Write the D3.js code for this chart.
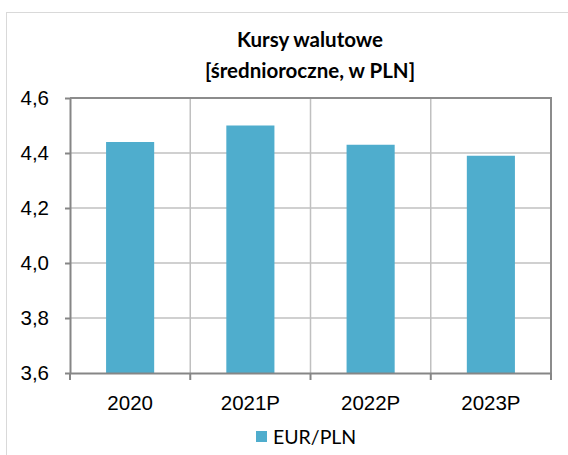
<!DOCTYPE html>
<html>
<head>
<meta charset="utf-8">
<script src="https://cdn.jsdelivr.net/npm/d3@7"></script>
<style>
  body { margin: 0; background: #fff; }
  svg { display: block; font-family: Lato, 'Open Sans', sans-serif; }
  .axis path, .axis line { stroke: #868686; }
  .axis text { fill: #000; }
</style>
</head>
<body>
<svg id="chart" width="568" height="455"></svg>
<script>
// data
var categories = ['2020', '2021P', '2022P', '2023P']
var eurPln = [4.44, 4.50, 4.43, 4.39]
var yTicks = [3.6, 3.8, 4.0, 4.2, 4.4, 4.6]
var titleLines = ['Kursy walutowe', '[średnioroczne, w PLN]']
var seriesName = 'EUR/PLN'

var barColor = '#4fadcd'
var svg = d3.select('#chart')
var width = +svg.attr('width'),
  height = +svg.attr('height')
var margin = {top: 98, right: 17, bottom: 82, left: 70}
var plotW = width - margin.left - margin.right,
  plotH = height - margin.top - margin.bottom

// chart frame
svg.append('rect')
  .attr('x', 6.5).attr('y', 12.5)
  .attr('width', width + 10).attr('height', height + 10)
  .attr('fill', 'none')
  .attr('stroke', '#d9d9d9')

// title
svg.append('g').selectAll('text')
  .data(titleLines)
  .enter().append('text')
  .attr('x', 310)
  .attr('y', function (d, i) { return 47 + i * 31 })
  .attr('text-anchor', 'middle')
  .style('font-weight', 'bold')
  .style('font-size', '20.5px')
  .text(function (d) { return d })

var x = d3.scaleBand().domain(categories).range([0, plotW]).padding(0)
var y = d3.scaleLinear().domain([3.6, 4.6]).range([plotH, 0])

var g = svg.append('g')
  .attr('transform', 'translate(' + margin.left + ',' + margin.top + ')')

// horizontal grid
g.append('g').selectAll('line')
  .data(yTicks.slice(1, -1))
  .enter().append('line')
  .attr('x1', 0).attr('x2', plotW)
  .attr('y1', function (d) { return y(d) })
  .attr('y2', function (d) { return y(d) })
  .attr('stroke', '#c0c0c0')
  .attr('stroke-width', 1.5)

// vertical grid between categories
g.append('g').selectAll('line')
  .data(categories.slice(1))
  .enter().append('line')
  .attr('x1', function (d) { return x(d) })
  .attr('x2', function (d) { return x(d) })
  .attr('y1', 0).attr('y2', plotH)
  .attr('stroke', '#c0c0c0')
  .attr('stroke-width', 1.5)

// plot area border (top/right)
g.append('path')
  .attr('d', 'M0,0H' + plotW + 'V' + plotH)
  .attr('fill', 'none')
  .attr('stroke', '#8c8c8c')
  .attr('stroke-width', 2)

// bars
var bw = x.bandwidth() * 0.4
g.selectAll('.bar')
  .data(eurPln)
  .enter().append('rect')
  .attr('class', 'bar')
  .attr('x', function (d, i) { return x(categories[i]) + (x.bandwidth() - bw) / 2 })
  .attr('y', function (d) { return y(d) })
  .attr('width', bw)
  .attr('height', function (d) { return plotH - y(d) })
  .attr('fill', barColor)

// y axis
var yAxis = g.append('g')
  .attr('class', 'axis')
  .call(d3.axisLeft(y).tickValues(yTicks).tickSize(5).tickSizeOuter(0).tickPadding(16)
    .tickFormat(function (d) { return d3.format('.1f')(d).replace('.', ',') }))
yAxis.select('.domain').attr('stroke-width', 2)
yAxis.selectAll('line').attr('stroke-width', 2)
yAxis.selectAll('text').style('font-size', '20.5px')

// x axis with ticks at category boundaries
var xAxis = g.append('g')
  .attr('class', 'axis')
  .attr('transform', 'translate(0,' + plotH + ')')
  .call(d3.axisBottom(x).tickSize(0).tickPadding(22))
xAxis.select('.domain').attr('stroke-width', 2)
xAxis.selectAll('text').style('font-size', '20.5px')
xAxis.append('g').selectAll('line')
  .data(categories.concat(['end']))
  .enter().append('line')
  .attr('x1', function (d, i) { return i * x.step() })
  .attr('x2', function (d, i) { return i * x.step() })
  .attr('y1', 0).attr('y2', 7)
  .attr('stroke', '#868686')
  .attr('stroke-width', 2)

// legend
var legend = svg.append('g').attr('transform', 'translate(256,431)')
legend.append('rect')
  .attr('width', 11).attr('height', 11)
  .attr('fill', barColor)
legend.append('text')
  .attr('x', 17).attr('y', 13)
  .style('font-size', '19.5px')
  .text(seriesName)
</script>
</body>
</html>
